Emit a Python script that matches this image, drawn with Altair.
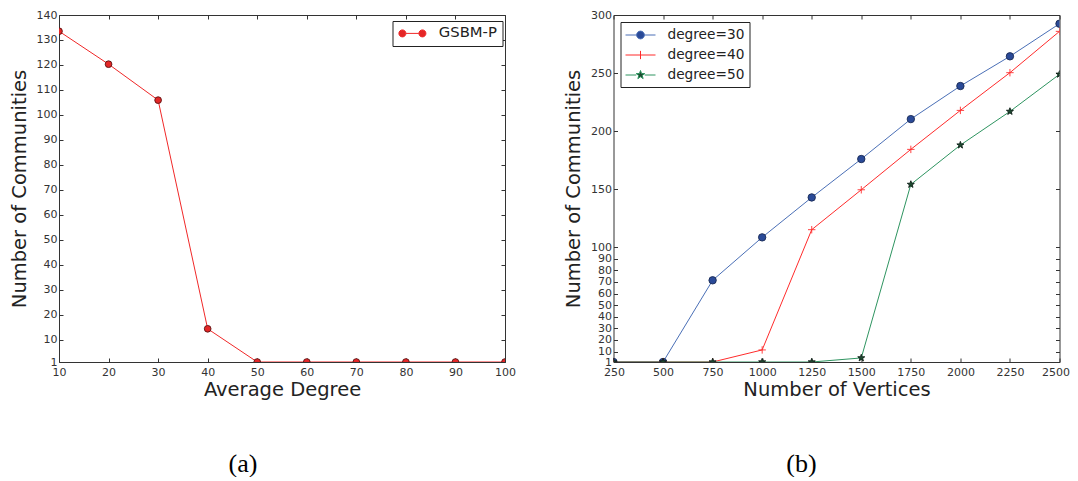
import altair as alt
import pandas as pd

# ---------------- data ----------------
avg_degree = [10, 20, 30, 40, 50, 60, 70, 80, 90, 100]
gsbm_p = [133.5, 120.3, 105.9, 14.3, 1, 1, 1, 1, 1, 1]
series_a = ["GSBM-P"]

vertices = [250, 500, 750, 1000, 1250, 1500, 1750, 2000, 2250, 2500]
deg30 = [1, 1, 71.4, 108.4, 142.8, 175.9, 210.3, 238.8, 264.4, 292.5]
deg40 = [1, 1, 1, 11.4, 115.0, 149.4, 184.2, 217.8, 250.3, 285.9]
deg50 = [1, 1, 1, 1, 1, 4.5, 154.0, 187.9, 216.9, 248.9]
series_b = ["degree=30", "degree=40", "degree=50"]

xticks_a = [10, 20, 30, 40, 50, 60, 70, 80, 90, 100]
yticks_a = [1, 10, 20, 30, 40, 50, 60, 70, 80, 90, 100, 110, 120, 130, 140]
xticks_b = [250, 500, 750, 1000, 1250, 1500, 1750, 2000, 2250, 2500]
yticks_b = [1, 10, 20, 30, 40, 50, 60, 70, 80, 90, 100, 150, 200, 250, 300]

df_a = pd.DataFrame({"x": avg_degree, "y": gsbm_p, "series": series_a[0]})
df_b = pd.concat(
    [pd.DataFrame({"x": vertices, "y": vals, "series": name})
     for name, vals in zip(series_b, [deg30, deg40, deg50])],
    ignore_index=True)

# ---------------- style ----------------
W, H = 446, 347
FONT = "DejaVu Sans"
TICK = "#333333"

PLUS = "M-1,0L1,0M0,-1L0,1"
STAR = ("M0,-1L0.235,-0.324L0.951,-0.309L0.38,0.124L0.588,0.809L0,0.4"
        "L-0.588,0.809L-0.38,0.124L-0.951,-0.309L-0.235,-0.324Z")

# legend symbols: a short line with the marker(s) on it
LEG_A = ("M-1,0L1,0"
         "M-2.08,0A0.54,0.54,0,1,0,-1,0A0.54,0.54,0,1,0,-2.08,0Z"
         "M1,0A0.54,0.54,0,1,0,2.08,0A0.54,0.54,0,1,0,1,0Z")
LEG_CIRCLE = ("M-2,0L-0.52,0M0.52,0L2,0"
              "M-0.52,0A0.52,0.52,0,1,0,0.52,0A0.52,0.52,0,1,0,-0.52,0Z")
LEG_PLUS = "M-2,0L2,0M0,-0.55L0,0.55"
LEG_STAR = ("M-2,0L-0.57,0M0.57,0L2,0"
            "M0,-0.6L0.141,-0.194L0.571,-0.185L0.228,0.074L0.353,0.485L0,0.24"
            "L-0.353,0.485L-0.228,0.074L-0.571,-0.185L-0.141,-0.194Z")


def tick_axis(orient, offset, values):
    return alt.Axis(orient=orient, offset=offset, values=values, labels=False,
                    domain=False, ticks=True, tickSize=4, tickColor=TICK,
                    tickWidth=1, grid=False, title=None)


def panel(df, xdom, ydom, xt, yt, xtitle, series, line_colors, fill_colors,
          edge_colors, shapes, msize, leg_shapes, leg_size, leg_sym_offset,
          leg_label_offset, leg_font, leg_x, leg_y, flush, caption, cap_dx):
    xs = alt.Scale(domain=xdom, nice=False, zero=False)
    ys = alt.Scale(domain=ydom, nice=False, zero=False)
    base = alt.Chart(df)

    if flush:
        xflush = dict(labelFlush=True, labelFlushOffset=10)
    else:
        xflush = dict(labelFlush=False)

    lines = base.mark_line(strokeWidth=1, clip=True).encode(
        x=alt.X("x:Q", scale=xs, axis=alt.Axis(
            orient="bottom", values=xt, format="d", ticks=False, domain=False,
            grid=False, labelPadding=4, labelOverlap=False,
            title=xtitle, titlePadding=3, **xflush)),
        y=alt.Y("y:Q", scale=ys, axis=alt.Axis(
            orient="left", values=yt, format="d", ticks=False, domain=False,
            grid=False, labelPadding=2, labelFlush=False, labelOverlap=False,
            title="Number of Communities", titlePadding=7)),
        stroke=alt.Stroke("series:N", scale=alt.Scale(domain=series, range=line_colors),
                          legend=None),
        detail="series:N",
    )

    points = base.mark_point(filled=True, opacity=1, strokeWidth=0.9, size=msize,
                             clip=True).encode(
        x=alt.X("x:Q", scale=xs, axis=None),
        y=alt.Y("y:Q", scale=ys, axis=None),
        fill=alt.Fill("series:N", scale=alt.Scale(domain=series, range=fill_colors),
                      legend=None),
        stroke=alt.Stroke("series:N", scale=alt.Scale(domain=series, range=edge_colors),
                          legend=None),
        shape=alt.Shape("series:N", scale=alt.Scale(domain=series, range=shapes),
                        legend=None),
    )

    leg = alt.Legend(orient="none", legendX=leg_x, legendY=leg_y, title=None,
                     symbolSize=leg_size, symbolStrokeWidth=1,
                     symbolOffset=leg_sym_offset, labelOffset=leg_label_offset,
                     labelFontSize=leg_font)
    legend_layer = base.mark_point(filled=True, opacity=1, strokeWidth=1).encode(
        fill=alt.Fill("series:N", scale=alt.Scale(domain=series, range=fill_colors),
                      legend=leg),
        stroke=alt.Stroke("series:N", scale=alt.Scale(domain=series, range=line_colors),
                          legend=leg),
        shape=alt.Shape("series:N", scale=alt.Scale(domain=series, range=leg_shapes),
                        legend=leg),
    ).transform_filter("false")

    ticks1 = base.mark_point(opacity=0).encode(
        x=alt.X("x:Q", scale=xs, axis=tick_axis("bottom", -H, xt)),
        y=alt.Y("y:Q", scale=ys, axis=tick_axis("left", -W, yt)),
    )
    ticks2 = base.mark_point(opacity=0).encode(
        x=alt.X("x:Q", scale=xs, axis=tick_axis("top", -H, xt)),
        y=alt.Y("y:Q", scale=ys, axis=tick_axis("right", -W, yt)),
    )

    return alt.layer(lines, points, legend_layer, ticks1, ticks2).resolve_scale(
        stroke="independent", fill="independent", shape="independent"
    ).resolve_axis(x="independent", y="independent").properties(
        width=W, height=H,
        title=alt.TitleParams(caption, orient="bottom", anchor="middle",
                              font="Liberation Serif", fontSize=26,
                              fontWeight="normal", color="black",
                              offset=52, dx=cap_dx),
    )


pa = panel(df_a, [10, 100], [1, 140], xticks_a, yticks_a, "Average Degree",
           series_a, ["#f02828"], ["#e42626"], ["#5a1414"], ["circle"], 45,
           [LEG_A], 169, 7.5, 19, 14.8, 333.5, 6, False, "(a)", -39)

pb = panel(df_b, [250, 2500], [1, 300], xticks_b, yticks_b, "Number of Vertices",
           series_b, ["#4a6fb6", "#ff2b2b", "#2e9460"],
           ["#2a4a98", "#ff2b2b", "#1d4a30"],
           ["#1a2a55", "#ff2b2b", "#102018"],
           ["circle", PLUS, STAR], 55,
           [LEG_CIRCLE, LEG_PLUS, LEG_STAR], 225, 7, 19, 13.7, 7, 7, True, "(b)", -35)

chart = alt.hconcat(pa, pb, spacing=46.5).properties(
    padding={"left": 0, "top": 0, "right": 0, "bottom": 0},
    background="white",
).configure_view(
    stroke="#333333", strokeWidth=1
).configure_axis(
    labelFont=FONT, labelFontSize=11, labelColor="#333333",
    titleFont=FONT, titleFontSize=19.5, titleFontWeight="normal", titleColor="#222222",
).configure_legend(
    labelFont=FONT, labelFontSize=13.7, labelColor="#222222",
    strokeColor="#222222", fillColor="white", padding=5, cornerRadius=0,
    rowPadding=5,
)

chart.save("out.html", embed_options={"renderer": "svg", "actions": False})
